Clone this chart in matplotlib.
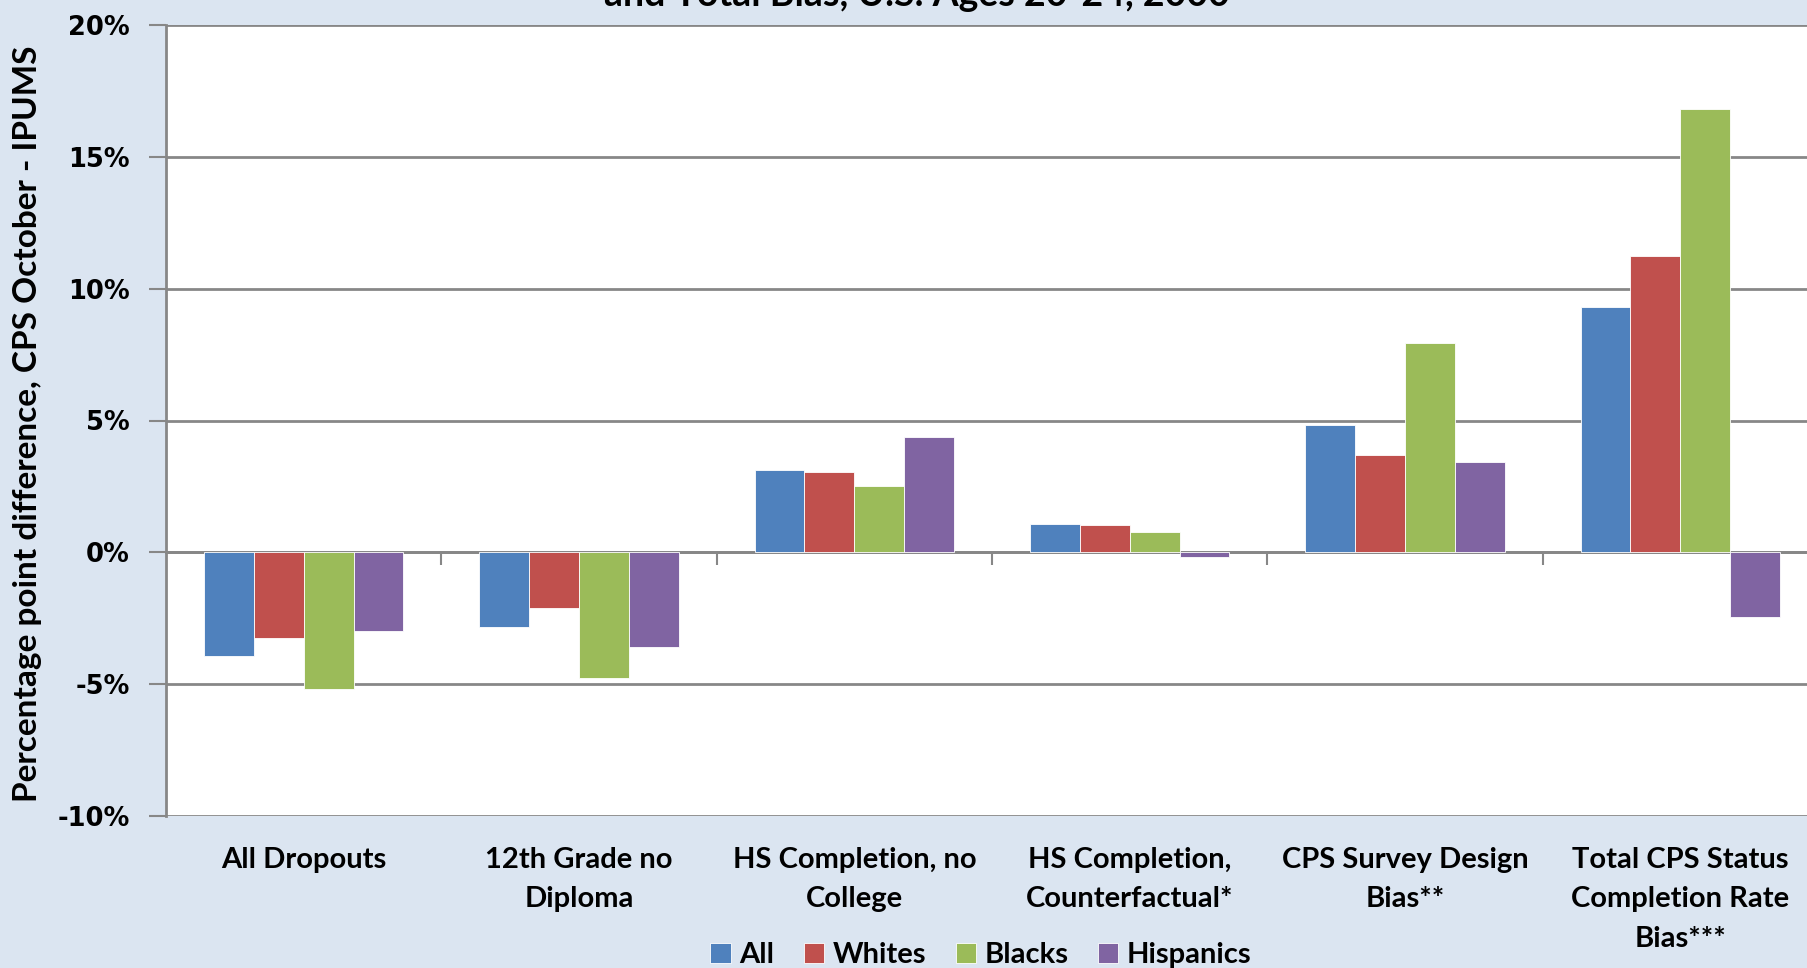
import matplotlib
matplotlib.use('Agg')
import matplotlib.pyplot as plt
import numpy as np

categories = ['All Dropouts', '12th Grade no\nDiploma', 'HS Completion, no\nCollege',
              'HS Completion,\nCounterfactual*', 'CPS Survey Design\nBias**',
              'Total CPS Status\nCompletion Rate\nBias***']
series_names = ['All', 'Whites', 'Blacks', 'Hispanics']
all_vals = [-3.95, -2.82, 3.11, 1.09, 4.82, 9.31]
whites_vals = [-3.24, -2.10, 3.06, 1.05, 3.71, 11.24]
blacks_vals = [-5.18, -4.77, 2.51, 0.78, 7.93, 16.80]
hispanics_vals = [-2.99, -3.60, 4.37, -0.16, 3.43, -2.44]
yticks = [-10, -5, 0, 5, 10, 15, 20]
ytick_labels = ['-10%', '-5%', '0%', '5%', '10%', '15%', '20%']
title_line = 'and Total Bias, U.S. Ages 20-24, 2000'
ylabel = 'Percentage point difference, CPS October - IPUMS'

colors = ['#4F81BD', '#C0504D', '#9BBB59', '#8064A2']
bg = '#DBE5F1'
grid_c = '#878787'

fig = plt.figure(figsize=(18.08, 9.68), dpi=100, facecolor=bg)
W, H = 1808, 968
ax = fig.add_axes([166 / W, 1 - 816 / H, 1652 / W, (816 - 25) / H])
ax.set_facecolor('white')

x = np.arange(len(categories))
bw = 0.181
data = [all_vals, whites_vals, blacks_vals, hispanics_vals]
for i, (vals, name) in enumerate(zip(data, series_names)):
    ax.bar(x + (i - 1.5) * bw, vals, bw, color=colors[i], label=name,
           edgecolor='white', linewidth=0.6, zorder=3)

ax.set_xlim(-0.5, len(categories) - 0.5)
ax.set_ylim(-10, 20)
ax.set_yticks(yticks)
ax.set_yticklabels(ytick_labels, fontfamily='DejaVu Sans', fontweight='bold', fontsize=18.5)
ax.yaxis.grid(True, color=grid_c, linewidth=2, zorder=1)
ax.tick_params(axis='y', length=12, width=1.5, color=grid_c, pad=14)

ax.set_xticks(x)
ax.set_xticklabels(categories, fontfamily='Lato', fontweight='bold', fontsize=21,
                   linespacing=1.65, va='top')
ax.tick_params(axis='x', length=0, pad=22)

for s in ['top', 'right', 'bottom']:
    ax.spines[s].set_visible(False)
ax.spines['left'].set_color(grid_c)
ax.spines['left'].set_linewidth(2)

# zero line with category separator ticks
sec = ax.secondary_xaxis(1 / 3)
sec.set_xticks(np.arange(0.5, len(categories) - 0.5, 1.0))
sec.set_xticklabels([])
sec.tick_params(axis='x', direction='out', length=9, width=1.5, color=grid_c)
sec.spines['bottom'].set_color(grid_c)
sec.spines['bottom'].set_linewidth(2)

fig.text(28 / W, 1 - 424 / H, ylabel, rotation=90, ha='center', va='center',
         fontfamily='Lato', fontweight='bold', fontsize=24)

fig.text(0.507, 1 - 6 / H, title_line, ha='center', va='baseline',
         fontfamily='Lato', fontweight='bold', fontsize=27)

leg = fig.legend(loc='center', bbox_to_anchor=(981 / W, 1 - 955 / H), ncol=4,
                 frameon=False, prop={'family': 'Lato', 'weight': 'bold', 'size': 21},
                 handlelength=0.7, handleheight=0.7, handletextpad=0.3,
                 columnspacing=1.0)

fig.savefig('out.png', dpi=100, facecolor=bg)
